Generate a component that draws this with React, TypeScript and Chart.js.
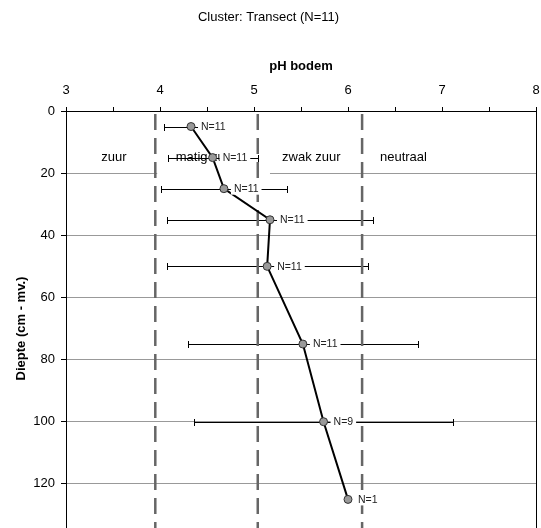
import React, { useEffect, useRef } from 'react';
import { Chart, registerables } from 'chart.js';

Chart.register(...registerables);

// ---- data ----
const depthCm = [5, 15, 25, 35, 50, 75, 100, 125];
const phMean = [4.33, 4.56, 4.68, 5.17, 5.14, 5.52, 5.74, 6.0];
const phSpread = [0.29, 0.48, 0.67, 1.1, 1.07, 1.22, 1.38, 0];
const sampleN = [11, 11, 11, 11, 11, 11, 9, 1];
const classBounds = [3.95, 5.04, 6.15];
const classNames = ['zuur', 'matig zuur', 'zwak zuur', 'neutraal'];
const classLabelPh = [3.51, 4.49, 5.61, 6.59];
const classLabelDepth = 15;
const chartTitle = 'Cluster: Transect (N=11)';
const xTitle = 'pH bodem';
const yTitle = 'Diepte (cm - mv.)';

const FONT = '"Liberation Sans", Arial, sans-serif';

const overlayPlugin = {
  id: 'overlay',
  beforeDatasetsDraw(chart: any) {
    const { ctx, chartArea: a, scales } = chart;
    const x = scales.x;
    const y = scales.y;
    ctx.save();
    ctx.beginPath();
    ctx.rect(a.left, a.top, a.right - a.left, a.bottom - a.top);
    ctx.clip();

    // white text box behind "matig zuur"
    ctx.fillStyle = '#fff';
    const bx1 = x.getPixelForValue(3.97);
    const bx2 = x.getPixelForValue(5.17);
    const by1 = y.getPixelForValue(9.5);
    const by2 = y.getPixelForValue(21.5);
    ctx.fillRect(bx1, by1, bx2 - bx1, by2 - by1);

    // class labels
    ctx.font = '13px ' + FONT;
    ctx.fillStyle = '#000';
    ctx.textAlign = 'center';
    ctx.textBaseline = 'middle';
    classNames.forEach((n, i) => {
      ctx.fillText(n, x.getPixelForValue(classLabelPh[i]), y.getPixelForValue(classLabelDepth));
    });

    // error bars
    ctx.strokeStyle = '#000';
    ctx.lineWidth = 1;
    phMean.forEach((m, i) => {
      const s = phSpread[i];
      if (!s) return;
      const py = Math.round(y.getPixelForValue(depthCm[i])) + 0.5;
      const l = Math.round(x.getPixelForValue(m - s)) + 0.5;
      const r = Math.round(x.getPixelForValue(m + s)) + 0.5;
      ctx.beginPath();
      ctx.moveTo(l, py);
      ctx.lineTo(r, py);
      ctx.moveTo(l, py - 3.5);
      ctx.lineTo(l, py + 3.5);
      ctx.moveTo(r, py - 3.5);
      ctx.lineTo(r, py + 3.5);
      ctx.stroke();
    });

    // dashed class boundaries
    ctx.strokeStyle = '#666';
    ctx.lineWidth = 2.5;
    ctx.setLineDash([16, 8]);
    ctx.lineDashOffset = -3;
    classBounds.forEach((b) => {
      const px = x.getPixelForValue(b);
      ctx.beginPath();
      ctx.moveTo(px, a.top);
      ctx.lineTo(px, a.bottom);
      ctx.stroke();
    });
    ctx.restore();
  },
  afterDatasetsDraw(chart: any) {
    const { ctx, scales } = chart;
    const x = scales.x;
    const y = scales.y;
    ctx.save();
    ctx.font = '10.5px ' + FONT;
    ctx.textAlign = 'left';
    ctx.textBaseline = 'middle';
    phMean.forEach((m, i) => {
      const px = x.getPixelForValue(m);
      const py = y.getPixelForValue(depthCm[i]);
      const txt = 'N=' + sampleN[i];
      const w = ctx.measureText(txt).width;
      ctx.fillStyle = '#fff';
      ctx.fillRect(px + 7, py - 6, w + 6, 12);
      ctx.fillStyle = '#222';
      ctx.fillText(txt, px + 10, py + 0.5);
    });
    ctx.restore();
  },
  afterDraw(chart: any) {
    const { ctx, chartArea: a } = chart;
    ctx.save();
    ctx.strokeStyle = '#000';
    ctx.lineWidth = 1;
    ctx.beginPath();
    const rx = Math.round(a.right) + 0.5;
    ctx.moveTo(rx, a.top);
    ctx.lineTo(rx, a.bottom);
    ctx.stroke();
    ctx.restore();
  },
};

export default function App() {
  const canvasRef = useRef<HTMLCanvasElement | null>(null);

  useEffect(() => {
    if (!canvasRef.current) return;
    Chart.defaults.font.family = FONT;
    Chart.defaults.color = '#000';
    const points = phMean.map((m, i) => ({ x: m, y: depthCm[i] }));
    const chart = new Chart(canvasRef.current, {
      type: 'scatter',
      data: {
        datasets: [
          {
            data: points,
            showLine: true,
            borderColor: '#000',
            borderWidth: 2,
            pointRadius: 4,
            pointBackgroundColor: '#999',
            pointBorderColor: '#333',
            pointBorderWidth: 1,
          },
        ],
      },
      options: {
        responsive: false,
        animation: false,
        layout: { padding: { top: 0, left: 0, right: 4, bottom: 10 } },
        plugins: {
          legend: { display: false },
          tooltip: { enabled: false },
          title: {
            display: true,
            text: chartTitle,
            color: '#000',
            font: { size: 13, weight: 'normal' },
            padding: { top: 10, bottom: 10 },
          },
        },
        scales: {
          x: {
            type: 'linear',
            position: 'top',
            min: 3,
            max: 8,
            ticks: {
              stepSize: 0.5,
              autoSkip: false,
              maxRotation: 0,
              padding: 9,
              color: '#000',
              font: { size: 13 },
              callback: (v: any) => (Number.isInteger(v) ? String(v) : ''),
            },
            grid: { drawOnChartArea: false, drawTicks: true, tickLength: 4, color: '#000' },
            border: { display: true, color: '#000', width: 1 },
            title: {
              display: true,
              text: xTitle,
              color: '#000',
              font: { size: 13, weight: 'bold' },
              padding: { top: 23, bottom: 0 },
            },
            afterFit: (s: any) => {
              s.height = 75.4;
              s.paddingLeft = 0;
              s.paddingRight = 0;
            },
          },
          y: {
            type: 'linear',
            min: 0,
            max: 140,
            reverse: true,
            ticks: { stepSize: 20, padding: 6, color: '#000', font: { size: 13 } },
            grid: {
              color: (c: any) => (c.tick && c.tick.value === 0 ? '#000' : '#999'),
              tickColor: '#000',
              tickLength: 5,
            },
            border: { display: true, color: '#000', width: 1 },
            title: {
              display: true,
              text: yTitle,
              color: '#000',
              font: { size: 13, weight: 'bold' },
              padding: { top: 14, bottom: 0 },
            },
            afterFit: (s: any) => {
              s.width = 66;
              s.paddingTop = 0;
              s.paddingBottom = 0;
            },
          },
        },
      } as any,
      plugins: [overlayPlugin],
    });
    return () => chart.destroy();
  }, []);

  return (
    <div
      style={{
        position: 'fixed',
        left: 0,
        top: 0,
        width: 541,
        height: 528,
        overflow: 'hidden',
        background: '#fff',
      }}
    >
      <canvas ref={canvasRef} width={541} height={556} style={{ display: 'block', width: 541, height: 556 }} />
    </div>
  );
}
